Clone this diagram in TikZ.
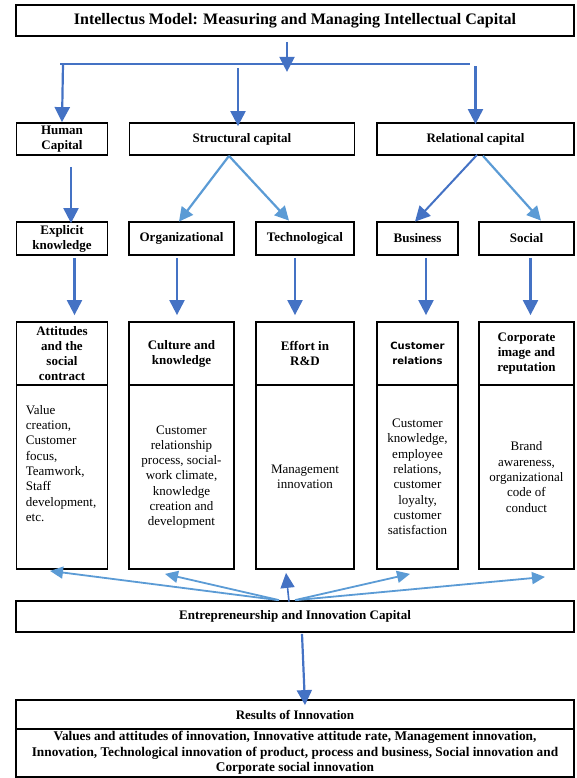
\documentclass[tikz,border=0pt]{standalone}
\usepackage{fontspec}
\setmainfont{Liberation Serif}
\newfontfamily\hdsans{DejaVu Sans}
\usetikzlibrary{arrows.meta}
\definecolor{dblue}{HTML}{4472C4}
\definecolor{lblue}{HTML}{5B9BD5}
\tikzset{
  box/.style={draw=black, line width=1.8pt, inner sep=0pt, align=center},
  hd/.style={font=\bfseries\fontsize{13}{15}\selectfont},
  bd/.style={font=\fontsize{13}{15.3}\selectfont},
  arr/.style={draw=dblue, line width=2.2pt, -{Triangle[length=15pt,width=15pt]}},
  larr/.style={draw=lblue, line width=2.2pt, -{Triangle[length=14pt,width=14pt]}},
  farr/.style={draw=lblue, line width=1.8pt, -{Triangle[length=13pt,width=12pt]}},
}
\begin{document}
\begin{tikzpicture}[x=1pt,y=-1pt]
\useasboundingbox (0,0) rectangle (577,778);
% title
\node[box, minimum width=558, minimum height=31, font=\bfseries\fontsize{16}{18}\selectfont] (title) at (295,20.5) {Intellectus Model: Measuring and Managing Intellectual Capital};
% row 2
\node[box, hd, minimum width=91, minimum height=32] (human) at (62,139) {Human\\Capital};
\node[box, hd, minimum width=225, minimum height=32] (struct) at (242,139) {Structural capital};
\node[box, hd, minimum width=197, minimum height=32] (rel) at (475.5,139) {Relational capital};
% row 3
\node[box, hd, minimum width=91, minimum height=33] (expl) at (62,238.5) {Explicit\\knowledge};
\node[box, hd, minimum width=105, minimum height=33] (org) at (181.5,238.5) {Organizational};
\node[box, hd, minimum width=98, minimum height=33] (tech) at (305,238.5) {Technological};
\node[box, hd, minimum width=81, minimum height=33] (busi) at (417.5,238.5) {Business};
\node[box, hd, minimum width=95, minimum height=33] (soc) at (526.5,238.5) {Social};
% row 4 headers
\node[box, hd, minimum width=91, minimum height=63] (h1) at (62,353.5) {Attitudes\\and the\\social\\contract};
\node[box, hd, minimum width=105, minimum height=63] (h2) at (181.5,353.5) {Culture and\\knowledge};
\node[box, hd, minimum width=98, minimum height=63] (h3) at (305,353.5) {Effort in\\R\&D};
\node[box, minimum width=81, minimum height=63, font=\hdsans\bfseries\fontsize{10}{15}\selectfont] (h4) at (417.5,353.5) {Customer\\relations};
\node[box, hd, minimum width=95, minimum height=63] (h5) at (526.5,353.5) {Corporate\\image and\\reputation};
% row 4 bodies
\node[box, bd, minimum width=91, minimum height=184] (b1) at (62,477) {};
\node[bd, align=left, anchor=west, inner sep=0pt] (t1) at (25.7,463.5) {Value\\creation,\\Customer\\focus,\\Teamwork,\\Staff\\development,\\etc.};
\node[box, bd, minimum width=105, minimum height=184] (b2) at (181.5,477) {Customer\\relationship\\process, social-\\work climate,\\knowledge\\creation and\\development};
\node[box, bd, minimum width=98, minimum height=184] (b3) at (305,477) {Management\\innovation};
\node[box, bd, minimum width=81, minimum height=184] (b4) at (417.5,477) {Customer\\knowledge,\\employee\\relations,\\customer\\loyalty,\\customer\\satisfaction};
\node[box, bd, minimum width=95, minimum height=184] (b5) at (526.5,477) {Brand\\awareness,\\organizational\\code of\\conduct};
% entrepreneurship
\node[box, hd, minimum width=558, minimum height=31] (entre) at (295,616.5) {Entrepreneurship and Innovation Capital};
% results
\node[box, hd, minimum width=558, minimum height=29] (resh) at (295,714.5) {Results of Innovation};
\node[box, minimum width=558, minimum height=48, font=\bfseries\fontsize{13.3}{15.4}\selectfont] (resb) at (295,753) {Values and attitudes of innovation, Innovative attitude rate, Management innovation,\\Innovation, Technological innovation of product, process and business, Social innovation and\\Corporate social innovation};
% bus
\coordinate (busL) at (60,64);
\coordinate (busR) at (470,64);
\draw[draw=dblue, line width=2.2pt] (busL) -- (busR);
\draw[arr] ([xshift=-8pt,yshift=-5pt]title.south) -- ([xshift=-8pt,yshift=-35pt]title.south);
\draw[arr] ([xshift=1pt,yshift=58pt]human.north) -- (human.north);
\draw[arr] ([xshift=-4pt,yshift=54pt]struct.north) -- ([xshift=-4pt,yshift=-4pt]struct.north);
\draw[arr] ([yshift=56pt]rel.north) -- ([yshift=-2pt]rel.north);
% row 2 -> row 3
\draw[arr] ([xshift=9pt,yshift=-11pt]human.south) -- ([xshift=9pt,yshift=-2pt]expl.north);
\draw[larr] ([xshift=-13pt]struct.south) -- ([xshift=-2.5pt,yshift=-0.5pt]org.north);
\draw[larr] ([xshift=-13pt]struct.south) -- ([xshift=-16pt,yshift=0.5pt]tech.north);
\draw[arr, line width=2pt] ([xshift=1.5pt,yshift=1pt]rel.south) -- ([xshift=-2.5pt,yshift=-0.5pt]busi.north);
\draw[larr] ([xshift=7.5pt]rel.south) -- ([xshift=14.5pt,yshift=0.5pt]soc.north);
% row 3 -> row 4
\draw[arr] ([xshift=12.5pt,yshift=-2pt]expl.south) -- ([xshift=12.5pt,yshift=6pt]h1.north);
\draw[arr] ([xshift=-4.5pt,yshift=-2pt]org.south) -- ([xshift=-4.5pt,yshift=6pt]h2.north);
\draw[arr] ([xshift=-10pt,yshift=-2pt]tech.south) -- ([xshift=-10pt,yshift=6pt]h3.north);
\draw[arr] ([xshift=8.5pt,yshift=-2pt]busi.south) -- ([xshift=8.5pt,yshift=6pt]h4.north);
\draw[arr] ([xshift=4pt,yshift=-2pt]soc.south) -- ([xshift=4pt,yshift=6pt]h5.north);
% fan from entrepreneurship
\draw[farr] ([xshift=-17pt]entre.north) -- ([xshift=-12pt,yshift=-1pt]b1.south);
\draw[farr] ([xshift=-16pt]entre.north) -- ([xshift=-16.5pt,yshift=-4pt]b2.south);
\draw[arr, line width=1.6pt, -{Triangle[length=15pt,width=14pt]}] ([xshift=-6pt,yshift=-1.5pt]entre.north) -- ([xshift=-19pt,yshift=-3pt]b3.south);
\draw[farr] ([xshift=0pt]entre.north) -- ([xshift=-7.5pt,yshift=-4pt]b4.south);
\draw[farr] ([xshift=1pt]entre.north) -- ([xshift=18.5pt,yshift=-7pt]b5.south);
% entrepreneurship -> results
\draw[arr] ([xshift=7pt,yshift=-1pt]entre.south) -- ([xshift=10pt,yshift=-6pt]resh.north);
\end{tikzpicture}
\end{document}
